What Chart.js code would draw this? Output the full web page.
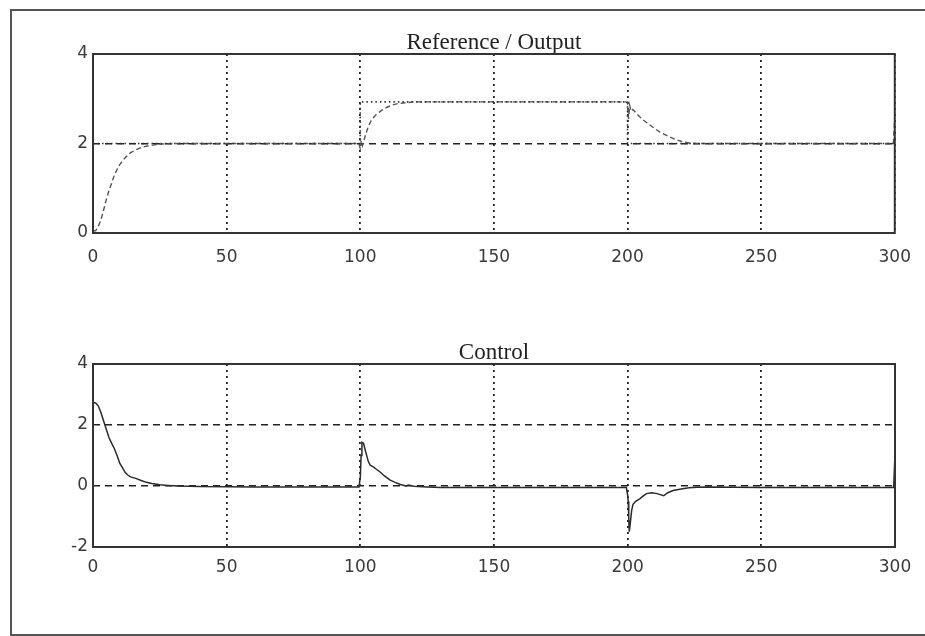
<!DOCTYPE html>
<html>
<head>
<meta charset="utf-8">
<title>Reference / Output - Control</title>
<script src="https://cdn.jsdelivr.net/npm/chart.js@4.4.1/dist/chart.umd.min.js"></script>
<style>
  html, body { margin: 0; padding: 0; background: #fff; overflow: hidden; }
  #hoja { position: relative; width: 925px; height: 636px; }
  #marco { position: absolute; left: 10px; top: 9px; width: 960px; height: 623px; border: 2px solid #555; border-right: none; }
  canvas { position: absolute; left: 0; }
  #c-out { top: 0; }
  #c-ctl { top: 300px; }
</style>
</head>
<body>
<div id="hoja">
  <div id="marco"></div>
  <canvas id="c-out" width="925" height="300"></canvas>
  <canvas id="c-ctl" width="925" height="336"></canvas>
</div>
<script>
// ticks
var xTicks = [0, 50, 100, 150, 200, 250, 300];
var yTicksOut = [0, 2, 4];
var yTicksCtl = [-2, 0, 2, 4];

// reference (setpoint)
var refT = [0, 100, 100, 200, 200, 300];
var refY = [2, 2, 2.93, 2.93, 2, 2];

// plant output
var outT = [0, 1, 2, 3, 4, 5, 6, 7, 8, 9, 10, 12, 14, 16, 18, 20, 23, 26, 30, 50, 99.5,
            100, 100.4, 100.8, 101.3, 102, 103, 104, 105, 106, 108, 110, 112, 114, 117, 120, 125, 150, 199.5,
            200, 200.4, 200.8, 201.3, 202, 204, 206, 208, 210, 212, 214, 216, 218, 220, 223, 226, 250, 299.5, 300];
var outY = [0.05, 0.05, 0.15, 0.3, 0.52, 0.75, 0.95, 1.12, 1.3, 1.42, 1.53, 1.68, 1.79, 1.86, 1.91, 1.94, 1.97, 1.99, 2.0, 2.0, 2.0,
            1.88, 2.06, 1.95, 2.05, 2.2, 2.38, 2.5, 2.58, 2.65, 2.74, 2.81, 2.86, 2.89, 2.91, 2.93, 2.93, 2.93, 2.93,
            2.9, 2.55, 2.85, 2.72, 2.76, 2.63, 2.52, 2.43, 2.34, 2.26, 2.2, 2.14, 2.09, 2.05, 2.01, 2.0, 2.0, 2.0, 2.62];

// control signal
var ctlT = [0, 1, 2, 3, 4, 5, 6, 7, 8, 9, 10, 11, 12, 13, 14, 16, 18, 20, 22, 25, 28, 32, 40, 60, 99.5,
            100, 100.3, 100.6, 101.2, 102, 103, 103.7, 105, 106, 107.5, 109, 111, 113, 115, 117, 118, 120, 125, 130, 150, 199.5,
            200, 200.2, 200.4, 200.6, 201, 201.5, 202, 203, 204.5, 205.5, 207, 209, 211, 213.5, 215, 217, 220, 223, 226, 230, 250, 299.5, 300];
var ctlY = [2.74, 2.72, 2.62, 2.4, 2.12, 1.85, 1.58, 1.4, 1.22, 1.0, 0.75, 0.6, 0.45, 0.36, 0.3, 0.25, 0.18, 0.12, 0.08, 0.04, 0.02, 0, -0.02, -0.03, -0.03,
            0.3, 1.0, 1.43, 1.4, 1.12, 0.8, 0.68, 0.62, 0.55, 0.45, 0.33, 0.2, 0.12, 0.05, 0.0, 0.03, -0.01, -0.03, -0.05, -0.05, -0.05,
            -0.3, -0.5, -1.0, -1.5, -1.2, -0.8, -0.6, -0.5, -0.42, -0.35, -0.25, -0.22, -0.25, -0.32, -0.22, -0.15, -0.1, -0.06, -0.04, -0.03, -0.05, -0.05, 1.05];

(function () {
  'use strict';
  var $ = function (id) { return document.getElementById(id); };
  var TICK_FONT = { family: 'DejaVu Sans', size: 17 };

  function pares(ts, ys) {
    return ts.map(function (t, i) { return { x: t, y: ys[i] }; });
  }
  function fijarTicks(lista) {
    return function (s) { s.ticks = lista.map(function (v) { return { value: v }; }); };
  }

  // solid box round the plot area
  var marcoEjes = {
    id: 'marcoEjes',
    afterDatasetsDraw: function (chart) {
      var a = chart.chartArea, ctx = chart.ctx;
      ctx.save();
      ctx.setLineDash([]);
      ctx.lineWidth = 2;
      ctx.strokeStyle = '#333';
      ctx.strokeRect(a.left, a.top, a.right - a.left, a.bottom - a.top);
      ctx.restore();
    }
  };

  function grafico(id, cfg) {
    return new Chart($(id), {
      type: 'line',
      data: { datasets: cfg.datasets },
      options: {
        responsive: false,
        animation: false,
        layout: { padding: { top: cfg.padTop, right: 30, left: 0, bottom: 0 } },
        plugins: {
          legend: { display: false },
          tooltip: { enabled: false },
          title: {
            display: true, fullSize: false, text: cfg.titulo, color: '#222', padding: 0,
            font: { family: 'Liberation Serif', size: 23, weight: 'normal', lineHeight: 1 }
          }
        },
        elements: { point: { radius: 0 }, line: { tension: 0 } },
        scales: {
          x: {
            type: 'linear', min: 0, max: 300,
            afterBuildTicks: fijarTicks(xTicks),
            afterFit: function (s) { s.height = cfg.altoX; },
            grid: { color: '#222', lineWidth: 1.8, drawTicks: false },
            border: { display: false, dash: [2, 4] },
            ticks: { padding: cfg.padX, color: '#3a3a3a', font: TICK_FONT, autoSkip: false, maxRotation: 0 }
          },
          y: {
            min: cfg.yTicks[0], max: cfg.yTicks[cfg.yTicks.length - 1],
            afterBuildTicks: fijarTicks(cfg.yTicks),
            afterFit: function (s) { s.width = 93; },
            grid: { color: '#222', lineWidth: 1.6, drawTicks: false },
            border: { display: false, dash: [7, 5] },
            ticks: { padding: 5, color: '#3a3a3a', font: TICK_FONT }
          }
        }
      },
      plugins: [marcoEjes]
    });
  }

  grafico('c-out', {
    titulo: 'Reference / Output', padTop: 31, altoX: 67, padX: 14, yTicks: yTicksOut,
    datasets: [
      { data: pares(refT, refY), borderColor: '#333', borderWidth: 1.6, borderDash: [1.5, 3] },
      { data: pares(outT, outY), borderColor: '#555', borderWidth: 1.4, borderDash: [5, 3] }
    ]
  });

  grafico('c-ctl', {
    titulo: 'Control', padTop: 41, altoX: 89, padX: 10, yTicks: yTicksCtl,
    datasets: [
      { data: pares(ctlT, ctlY), borderColor: '#2a2a2a', borderWidth: 1.5 }
    ]
  });
})();
</script>
</body>
</html>
